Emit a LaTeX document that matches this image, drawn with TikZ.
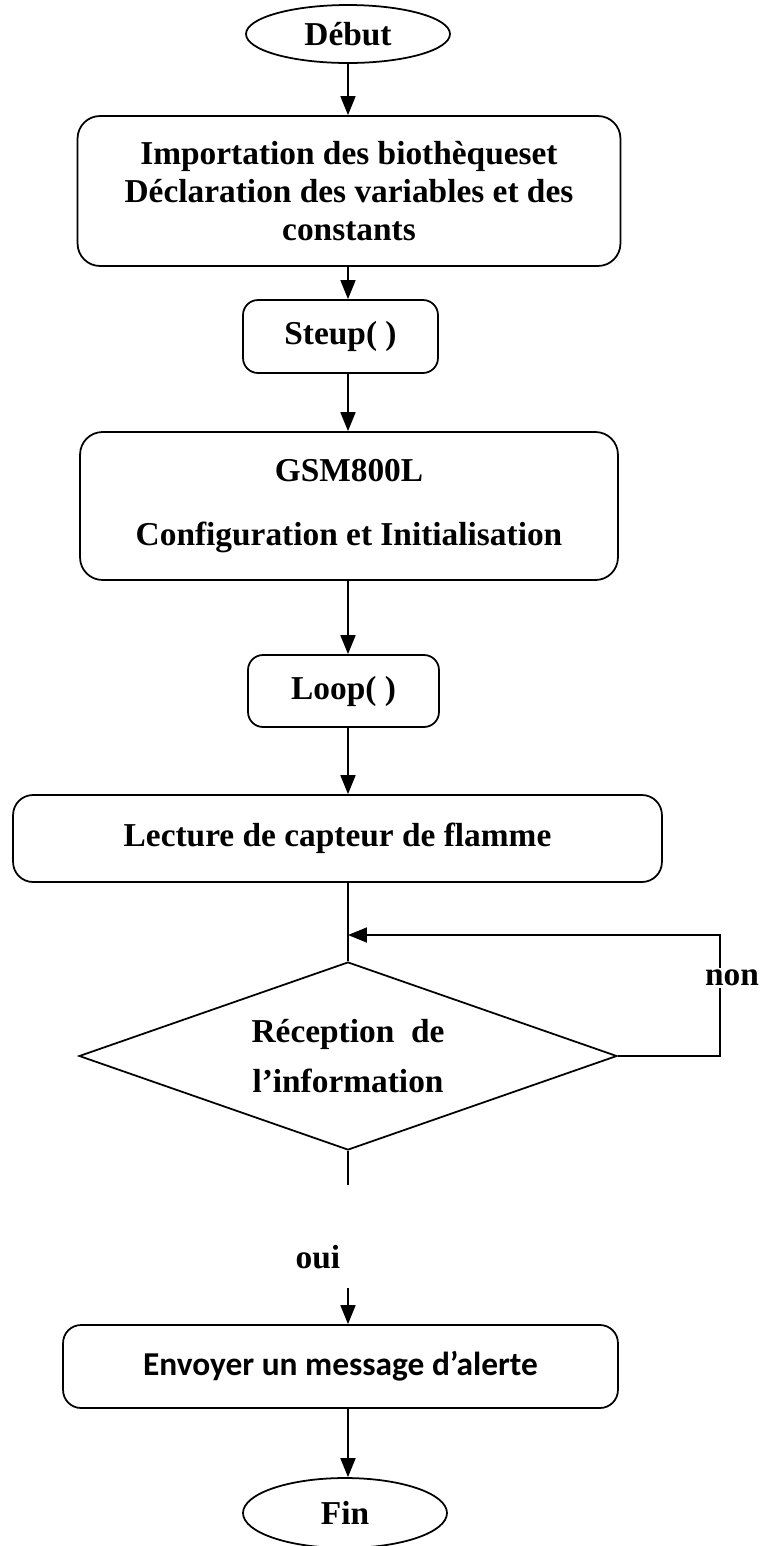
\documentclass[tikz,border=0pt]{standalone}
\usepackage{fontspec}
\setmainfont{Liberation Serif}
\newfontfamily\alertfont{Carlito}
\usetikzlibrary{shapes.geometric,arrows.meta}

\begin{document}
\begin{tikzpicture}[x=0.02cm, y=-0.02cm,
        every node/.style={font=\fontsize{19}{21.5}\selectfont\bfseries},
        terminal/.style={ellipse, draw, line width=1pt, inner sep=0pt},
        bloc/.style={draw, line width=1pt, rounded corners=0.45cm, align=center, inner sep=0pt},
        test/.style={diamond, draw, line width=1pt, inner sep=2pt, aspect=2.86, align=center},
        fleche/.style={line width=1pt, -{Triangle[width=0.3cm, length=0.38cm]}},
        trait/.style={line width=1pt}
    ]
    \useasboundingbox (0,0) rectangle (763,1546);

    % Inizio
    \node[terminal, minimum width=4.08cm, minimum height=1.16cm] (debut) at (348,34) {Début};

    % Blocchi di inizializzazione
    \node[bloc, minimum width=10.86cm, minimum height=3cm] (import) at (349,191)
        {Importation des biothèqueset\\Déclaration des variables et des\\constants};
    \node[bloc, rounded corners=0.3cm, minimum width=3.9cm, minimum height=1.46cm] (setup) at (340.5,336.5) {Steup( )};
    \node[bloc, minimum width=10.76cm, minimum height=2.96cm] (gsm) at (349,506)
        {GSM800L\\[15pt]Configuration et Initialisation};
    \node[bloc, rounded corners=0.3cm, minimum width=3.82cm, minimum height=1.44cm] (loop) at (343.5,691) {Loop( )};
    \node[bloc, rounded corners=0.4cm, minimum width=12.98cm, minimum height=1.74cm] (lecture) at (337.5,838.5)
        {\raisebox{3pt}{Lecture de capteur de flamme}};

    % Test
    \node[test, minimum width=10.76cm, minimum height=3.76cm] (recep) at (348,1056)
        {Réception~~de\\[7pt]l’information};
    \coordinate (retour) at (720,935);
    \coordinate (bas) at (348,1185);
    \coordinate (haut) at (348,1288);

    % Fine
    \node[bloc, rounded corners=0.36cm, minimum width=11.1cm, minimum height=1.66cm, font=\fontsize{19}{21.5}\selectfont\alertfont\bfseries] (alerte) at (340.5,1366.5)
        {Envoyer un message d’alerte};
    \node[terminal, minimum width=4.08cm, minimum height=1.4cm] (fin) at (345,1513) {Fin};

    % Frecce
    \draw[fleche] (debut.south -| 348,0) -- (import.north -| 348,0);
    \draw[fleche] (import.south -| 348,0) -- (setup.north -| 348,0);
    \draw[fleche] (setup.south -| 348,0) -- (gsm.north -| 348,0);
    \draw[fleche] (gsm.south -| 348,0) -- (loop.north -| 348,0);
    \draw[fleche] (loop.south -| 348,0) -- (lecture.north -| 348,0);
    \draw[trait] (lecture.south -| 348,0) -- (recep.north);
    \draw[fleche] (recep.east) -- (recep.east -| retour) -- (retour) -- (retour -| recep.north);
    \draw[trait] (recep.south) -- (bas);
    \draw[fleche] (haut) -- (alerte.north -| haut);
    \draw[fleche] (alerte.south -| haut) -- (fin.north -| haut);

    % Etichette del test
    \node[fill=white, inner sep=1pt] (non) at (732,978) {non};
    \node (oui) at (318,1257) {oui};
\end{tikzpicture}
\end{document}
